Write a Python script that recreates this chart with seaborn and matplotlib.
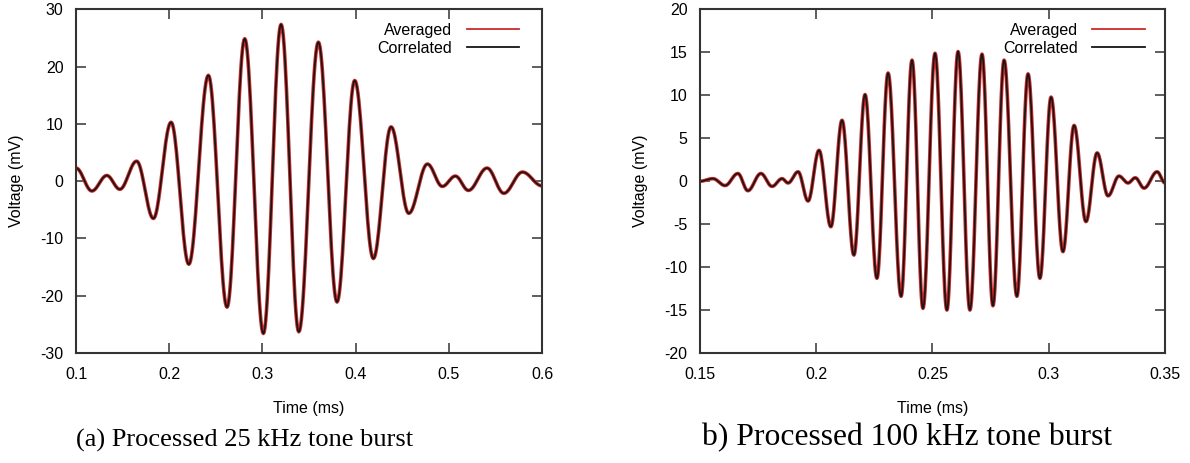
import numpy as np
import pandas as pd
import matplotlib
matplotlib.use('Agg')
import matplotlib.pyplot as plt
from matplotlib.ticker import FuncFormatter
import seaborn as sns

# extrema (time in ms, voltage in mV)
t_25k = [0.100, 0.117, 0.133, 0.147, 0.165, 0.183, 0.202, 0.221, 0.242, 0.262,
         0.281, 0.301, 0.320, 0.339, 0.360, 0.380, 0.399, 0.419, 0.438, 0.457,
         0.477, 0.493, 0.507, 0.521, 0.541, 0.559, 0.579, 0.600]
v_25k = [2.3, -1.7, 1.0, -1.4, 3.5, -6.5, 10.3, -14.5, 18.5, -22.0,
         24.9, -26.6, 27.4, -26.3, 24.3, -21.1, 17.6, -13.5, 9.5, -5.6,
         3.0, -0.9, 0.9, -1.6, 2.3, -2.1, 1.6, -0.8]

t_100k = [0.1500, 0.1556, 0.1608, 0.1663, 0.1706, 0.1762, 0.1810, 0.1853, 0.1879, 0.1922,
          0.1965, 0.2012, 0.2063, 0.2111, 0.2162, 0.2210, 0.2261, 0.2309, 0.2365, 0.2412,
          0.2459, 0.2511, 0.2562, 0.2610, 0.2661, 0.2713, 0.2760, 0.2808, 0.2863, 0.2911,
          0.2962, 0.3010, 0.3061, 0.3109, 0.3160, 0.3208, 0.3255, 0.3302, 0.3341, 0.3372,
          0.3410, 0.3466, 0.3500]
v_100k = [0.0, 0.3, -0.5, 0.9, -1.1, 0.9, -0.6, 0.3, -0.2, 1.1,
          -2.3, 3.6, -5.3, 7.1, -8.6, 10.1, -11.3, 12.6, -13.4, 14.1,
          -14.8, 14.9, -15.0, 15.1, -15.0, 14.8, -14.5, 14.1, -13.4, 12.5,
          -11.3, 9.8, -8.2, 6.5, -4.7, 3.3, -1.7, 0.6, -0.2, 0.4,
          -0.8, 1.1, -0.2]

series_names = ['Averaged', 'Correlated']
captions = ['(a) Processed 25 kHz tone burst', 'b) Processed 100 kHz tone burst']

RED = '#cc2a2a'
BLACK = '#151515'
SANS = ['Liberation Sans', 'DejaVu Sans']
SERIF = ['Liberation Serif', 'DejaVu Serif']
FS = 11.5


def smooth_trace(ts, vs, n=24):
    # draw the trace as half-cosine arcs between successive extrema
    xs, ys = [ts[0]], [vs[0]]
    for i in range(len(ts) - 1):
        s = np.linspace(0, 1, n)[1:]
        xs.extend(ts[i] + (ts[i + 1] - ts[i]) * s)
        ys.extend(vs[i] + (vs[i + 1] - vs[i]) * (1 - np.cos(np.pi * s)) / 2)
    return pd.DataFrame({'time': xs, 'voltage': ys})


def panel(ax, ts, vs, xlim, ylim, xticks, yticks, legend_x):
    df = smooth_trace(ts, vs)
    sns.lineplot(data=df, x='time', y='voltage', ax=ax, color=RED, lw=2.6,
                 label=series_names[0], sort=False, estimator=None)
    sns.lineplot(data=df, x='time', y='voltage', ax=ax, color=BLACK, lw=1.2,
                 label=series_names[1], sort=False, estimator=None)
    ax.set_xlim(*xlim)
    ax.set_ylim(*ylim)
    ax.set_xticks(xticks)
    ax.set_yticks(yticks)
    fmt = FuncFormatter(lambda v, p: '%g' % round(v, 4))
    ax.xaxis.set_major_formatter(fmt)
    ax.yaxis.set_major_formatter(fmt)
    ax.tick_params(direction='in', top=True, right=True, length=7, width=1.1,
                   color='#333333', labelsize=FS)
    ax.tick_params(axis='x', pad=10)
    ax.tick_params(axis='y', pad=9)
    for lab in ax.get_xticklabels() + ax.get_yticklabels():
        lab.set_family(SANS)
    for sp in ax.spines.values():
        sp.set_linewidth(1.5)
        sp.set_color('#333333')
    ax.set_xlabel('Time (ms)', fontsize=FS, family=SANS, labelpad=14)
    ax.set_ylabel('Voltage (mV)', fontsize=FS, family=SANS, labelpad=12)
    leg = ax.legend(loc='upper right', bbox_to_anchor=(legend_x, 0.99), frameon=False,
                    markerfirst=False, handlelength=3.3, handletextpad=0.9,
                    labelspacing=0.2, fontsize=FS, borderaxespad=0.2)
    for txt in leg.get_texts():
        txt.set_family(SANS)
    for h in leg.get_lines():
        h.set_linewidth(1.3)


plt.rcParams['axes.unicode_minus'] = False
fig = plt.figure(figsize=(11.9, 4.63), dpi=100)
ax1 = fig.add_axes([0.0639, 0.2376, 0.3916, 0.7419])
ax2 = fig.add_axes([0.5882, 0.2376, 0.3908, 0.7419])

panel(ax1, t_25k, v_25k, (0.1, 0.6), (-30, 30),
      [0.1, 0.2, 0.3, 0.4, 0.5, 0.6], [-30, -20, -10, 0, 10, 20, 30], 0.972)
panel(ax2, t_100k, v_100k, (0.15, 0.35), (-20, 20),
      [0.15, 0.2, 0.25, 0.3, 0.35], [-20, -15, -10, -5, 0, 5, 10, 15, 20], 0.978)

fig.text(245 / 1190, 1 - 440 / 463, captions[0], ha='center', va='center',
         family=SERIF, fontsize=19)
fig.text(907 / 1190, 1 - 438 / 463, captions[1], ha='center', va='center',
         family=SERIF, fontsize=22.8)

fig.savefig('out.png', dpi=100)
